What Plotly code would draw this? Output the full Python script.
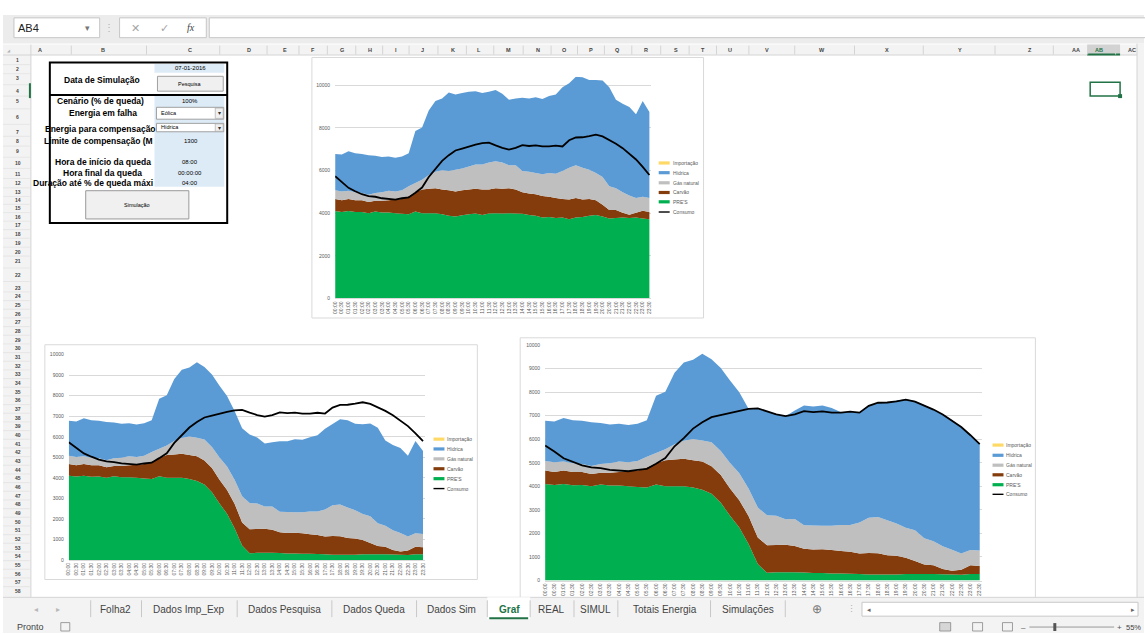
import plotly.graph_objects as go

# ---- dados (MW, intervalos de 30 min) ----
horas = ["00:00", "00:30", "01:00", "01:30", "02:00", "02:30", "03:00", "03:30",
         "04:00", "04:30", "05:00", "05:30", "06:00", "06:30", "07:00", "07:30",
         "08:00", "08:30", "09:00", "09:30", "10:00", "10:30", "11:00", "11:30",
         "12:00", "12:30", "13:00", "13:30", "14:00", "14:30", "15:00", "15:30",
         "16:00", "16:30", "17:00", "17:30", "18:00", "18:30", "19:00", "19:30",
         "20:00", "20:30", "21:00", "21:30", "22:00", "22:30", "23:00", "23:30"]

importacao = [0, 0, 0, 0, 0, 0, 0, 0, 0, 0, 0, 0, 0, 0, 0, 0,
              0, 0, 0, 0, 0, 0, 0, 0, 0, 0, 0, 0, 0, 0, 0, 0,
              0, 0, 0, 0, 0, 0, 0, 0, 0, 0, 0, 0, 0, 0, 0, 0]

pres_normal = [4100, 4060, 4100, 4050, 4060, 4000, 4080, 4030, 4030, 4000,
               3970, 3950, 4080, 4000, 4000, 4000, 3950, 3880, 3850, 3900,
               3950, 3980, 3920, 3980, 4000, 3980, 4000, 3990, 3970, 3920,
               3880, 3800, 3820, 3780, 3800, 3720, 3800, 3820, 3880, 3920,
               3850, 3750, 3780, 3800, 3780, 3800, 3750, 3720]

pres_queda = [4100, 4060, 4100, 4050, 4060, 4000, 4080, 4030, 4030, 4000,
              3970, 3950, 4080, 4000, 4000, 4000, 3950, 3850, 3680, 3300,
              2750, 2250, 1550, 700, 330, 350, 350, 350, 340, 320,
              320, 300, 300, 290, 280, 250, 250, 250, 260, 280,
              280, 280, 280, 270, 260, 240, 280, 280]

carvao = [570, 550, 570, 560, 550, 520, 500, 550, 580, 640,
          700, 850, 900, 1110, 1140, 1170, 1160, 1200, 1170, 1180,
          1160, 1160, 1190, 1130, 1170, 1160, 1170, 1120, 1010, 1000,
          1010, 1000, 950, 930, 870, 920, 910, 820, 790, 690,
          550, 400, 370, 220, 150, 220, 370, 340]

gas_natural = [410, 410, 380, 370, 340, 340, 370, 400, 440, 380,
               410, 460, 440, 460, 650, 770, 900, 900, 1020, 1020,
               1080, 1140, 1170, 1270, 1270, 1240, 1080, 1140, 1000, 1020,
               990, 1020, 1110, 1140, 1310, 1490, 1540, 1490, 1370, 1270,
               1300, 1110, 1020, 960, 900, 690, 650, 650]

hidrica_normal = [1700, 1730, 1850, 1830, 1830, 1860, 1740, 1650, 1610, 1580,
                  1580, 1550, 2430, 2450, 3030, 3320, 3370, 3680, 3530, 3530,
                  3500, 3440, 3350, 3310, 3340, 3220, 3070, 3130, 3430, 3440,
                  3560, 3530, 3620, 3720, 3930, 3960, 4150, 4240, 4210, 4370,
                  4520, 4650, 4150, 4150, 4150, 3930, 4490, 4040]

hidrica_compensada = [1700, 1730, 1850, 1830, 1830, 1860, 1740, 1650, 1610, 1580,
                      1580, 1550, 2430, 2450, 3030, 3320, 3370, 3680, 3530, 3530,
                      3500, 3440, 3380, 4210, 4410, 4310, 4380, 4610, 5080, 5050,
                      5110, 5010, 4790, 4810, 4670, 4760, 4850, 5000, 5220, 5460,
                      5490, 5660, 5590, 5620, 5510, 5370, 4870, 4520]

consumo = [5730, 5480, 5190, 5030, 4890, 4800, 4770, 4700, 4670, 4640,
           4700, 4740, 4960, 5200, 5700, 6050, 6450, 6720, 6940, 7030,
           7130, 7210, 7290, 7310, 7180, 7060, 6980, 7060, 7190, 7150,
           7180, 7130, 7130, 7170, 7130, 7420, 7550, 7560, 7610, 7680,
           7600, 7440, 7260, 7050, 6800, 6520, 6170, 5790]

legenda = ["Importação", "Hídrica", "Gás natural", "Carvão", "PRE'S", "Consumo"]

W, H = 1145, 636
FONT = "Liberation Sans"
cores = {"PRE'S": "#00b050", "Carvão": "#843c0c", "Gás natural": "#bfbfbf",
         "Hídrica": "#5b9bd5", "Importação": "#ffc000", "Consumo": "#000000"}


def px(x):
    return x / W


def py(y):
    return 1 - y / H


fig = go.Figure()
shapes = []
ann = []


def rect(x0, y0, x1, y1, fill=None, line=None, lw=1, layer="above"):
    shapes.append(dict(type="rect", xref="paper", yref="paper",
                       x0=px(x0), x1=px(x1), y0=py(y1), y1=py(y0),
                       fillcolor=fill or "rgba(0,0,0,0)",
                       line=dict(color=line or "rgba(0,0,0,0)", width=lw if line else 0),
                       layer=layer))


def seg(x0, y0, x1, y1, color, lw=1, layer="above"):
    shapes.append(dict(type="line", xref="paper", yref="paper",
                       x0=px(x0), x1=px(x1), y0=py(y0), y1=py(y1),
                       line=dict(color=color, width=lw), layer=layer))


def text(x, y, s, size=8, color="#000000", bold=False, anchor="center", family=FONT):
    ann.append(dict(xref="paper", yref="paper", x=px(x), y=py(y),
                    text=f"<b>{s}</b>" if bold else s, showarrow=False,
                    xanchor=anchor, yanchor="middle", borderpad=0,
                    font=dict(size=size, color=color, family=family)))


def add_chart(n, pres, hidrica):
    xa, ya = ("x", "y") if n == 1 else (f"x{n}", f"y{n}")
    series = [("PRE'S", pres), ("Carvão", carvao), ("Gás natural", gas_natural),
              ("Hídrica", hidrica), ("Importação", importacao)]
    for nome, serie in series:
        fig.add_trace(go.Scatter(x=horas, y=serie, name=nome, mode="none",
                                 stackgroup=f"g{n}", fillcolor=cores[nome],
                                 xaxis=xa, yaxis=ya, showlegend=False))
    fig.add_trace(go.Scatter(x=horas, y=consumo, name="Consumo", mode="lines",
                             line=dict(color="black", width=1.8),
                             xaxis=xa, yaxis=ya, showlegend=False))


def legend_block(x0, ys):
    for nome, y in zip(legenda, ys):
        lw = 1.4 if nome == "Consumo" else 3.2
        col = "#ffd966" if nome == "Importação" else cores[nome]
        seg(x0, y, x0 + 11, y, col, lw)
        text(x0 + 13, y, nome, size=5, color="#595959", anchor="left")


add_chart(1, pres_normal, hidrica_normal)
add_chart(2, pres_queda, hidrica_normal)
add_chart(3, pres_queda, hidrica_compensada)

# (n, x0, x1, ytop, ybottom, ymax, dtick)
layout_charts = [(1, 333.3, 650, 74.4, 298.3, 10400, 2000),
                 (2, 66, 423, 355, 562.3, 10000, 1000),
                 (3, 544, 982, 345.3, 583, 10000, 1000)]
axes = {}
for n, x0, x1, yt, yb, ymax, dt in layout_charts:
    s = "" if n == 1 else str(n)
    axes[f"xaxis{s}"] = dict(domain=[px(x0), px(x1)], range=[0, 47.2], type="category",
                             tickmode="array", tickvals=horas, ticktext=horas,
                             tickangle=-90, tickfont=dict(size=5, color="#595959"),
                             showgrid=False, showline=True, linecolor="#d9d9d9",
                             linewidth=1, ticks="", anchor=f"y{s}", fixedrange=True)
    axes[f"yaxis{s}"] = dict(domain=[py(yb), py(yt)], range=[0, ymax], dtick=dt,
                             tick0=0, tickformat="d", showgrid=True,
                             gridcolor="#d9d9d9", gridwidth=0.8, zeroline=False,
                             showline=False, ticks="", ticklabelstandoff=4,
                             tickfont=dict(size=5, color="#595959"),
                             anchor=f"x{s}", fixedrange=True)

# molduras dos gráficos
rect(310, 55, 703, 318, fill="white", line="#d9d9d9", layer="below")
rect(42, 345, 476, 582, fill="white", line="#d9d9d9", layer="below")
rect(519, 338, 1036, 610, fill="white", line="#d9d9d9", layer="below")

legend_block(658, [161.5, 171.3, 181.5, 191.3, 200.7, 211])
legend_block(432, [440.3, 450.2, 460.2, 470.2, 480.2, 490.2])
legend_block(993, [446.3, 456.6, 466.6, 476.3, 486.3, 496])

# ---- interface do Excel ----
# barra de fórmulas
rect(0, 12, 1145, 41, fill="#ececec")
rect(11, 15, 97, 35, fill="white", line="#c6c6c6")
text(14, 25, "AB4", size=11, color="#222222", anchor="left")
text(85, 25, "▾", size=9, color="#777777")
text(106, 25, "⋮", size=10, color="#b0b0b0")
rect(117, 15, 204, 35, fill="white", line="#c6c6c6")
text(133, 25, "✕", size=11, color="#a6a6a6")
text(162, 25, "✓", size=11, color="#a6a6a6")
text(189, 25, "<i>fx</i>", size=10, color="#444444", family="Liberation Serif")
rect(207, 15, 1150, 35, fill="white", line="#c6c6c6")

# cabeçalhos de colunas e linhas
rect(0, 42, 1145, 52.5, fill="#f3f3f3")
rect(0, 52.5, 28, 600, fill="#f3f3f3")
seg(0, 52.5, 1138, 52.5, "#d4d4d4")
seg(28, 42, 28, 600, "#d4d4d4")
colunas = [("A", 37), ("B", 100), ("C", 188), ("D", 247), ("E", 283), ("F", 311),
           ("G", 340), ("H", 368), ("I", 394), ("J", 421), ("K", 452), ("L", 478),
           ("M", 507), ("N", 537), ("O", 563), ("P", 590), ("Q", 617), ("R", 645),
           ("S", 675), ("T", 702), ("U", 730), ("V", 767), ("W", 822), ("X", 887),
           ("Y", 960), ("Z", 1031), ("AA", 1077), ("AB", 1100), ("AC", 1133)]
rect(1088, 42, 1121, 52.5, fill="#d2d2d2")
seg(1088, 52, 1121, 52, "#217346", 2)
for i, (c, xc) in enumerate(colunas):
    text(xc, 47.5, c, size=5.5, color="#217346" if c == "AB" else "#444444", bold=True)
    if i + 1 < len(colunas):
        xs = (xc + colunas[i + 1][1]) / 2
        seg(xs, 43, xs, 52, "#d4d4d4")
text(6, 48, "◢", size=4, color="#b0b0b0")

linhas_y = [57.3, 67, 75.7, 89.3, 98.7, 115, 130, 139.3, 149.7, 161.7, 172.3, 182,
            191.3, 199.3, 207.3, 216, 224.5, 233, 242, 251, 260, 275]
for r in range(23, 59):
    linhas_y.append(287.3 + (r - 23) * 8.75)
for r, yc in enumerate(linhas_y, start=1):
    text(15, yc, str(r), size=5, color="#444444", bold=True)
    if r < len(linhas_y):
        yb = (yc + linhas_y[r]) / 2
        seg(0, yb, 27, yb, "#dedede", 0.6)
seg(27, 81, 27, 96, "#217346", 2)

# célula selecionada AB4
rect(1091, 80, 1121, 94, line="#217346", lw=1.5)
rect(1119, 92, 1123, 96, fill="#217346")

# barra de deslocamento vertical
rect(1138, 41, 1145, 600, fill="#f3f3f3")
seg(1138, 41, 1138, 600, "#d4d4d4")

# ---- painel de simulação ----
rect(152, 61.5, 222, 70.5, fill="#ddebf7")
rect(152, 94, 222, 185.5, fill="#ddebf7")
rect(47, 60, 225, 222, line="#000000", lw=2)
seg(47, 93, 225, 93, "#000000", 2)

LB = 8.5
text(188, 66, "07-01-2016", size=6)
text(99, 77.3, "Data de Simulação", size=LB, bold=True)
rect(155, 74, 221, 89, fill="#f0f0f0", line="#a0a0a0")
text(188, 81.5, "Pesquisa", size=5.5)

text(98, 98.7, "Cenário (% de queda)", size=LB, bold=True)
text(188, 98.7, "100%", size=6)
text(100, 111.5, "Energia em falha", size=LB, bold=True)
rect(154, 105.3, 221.5, 117.3, fill="white", line="#a0a0a0")
rect(213, 106, 221, 116.5, fill="#f0f0f0", line="#a0a0a0", lw=0.6)
text(217, 111.3, "▾", size=6, color="#333333")
text(158, 111.3, "Eólica", size=5.5, anchor="left")

text(155, 127.5, "Energia para compensação", size=LB, bold=True, anchor="right")
rect(154, 121.5, 221.5, 130, fill="white", line="#a0a0a0")
rect(213, 122, 221, 129.5, fill="#f0f0f0", line="#a0a0a0", lw=0.6)
text(217, 125.8, "▾", size=6, color="#333333")
text(158, 125.5, "Hídrica", size=5.5, anchor="left")

text(152, 139.5, "Limite de compensação (M", size=LB, bold=True, anchor="right")
text(189, 139.5, "1300", size=6)
text(100, 161, "Hora de início da queda", size=LB, bold=True)
text(188, 161, "08:00", size=6)
text(100, 171.5, "Hora final da queda", size=LB, bold=True)
text(188, 171.7, "00:00:00", size=6)
text(152, 181.3, "Duração até % de queda máxi", size=LB, bold=True, anchor="right")
text(188, 182, "04:00", size=6)

rect(83, 189.5, 186.5, 218, fill="#f0f0f0", line="#9a9a9a")
text(134.5, 204, "Simulação", size=5.5)

# ---- separadores de folhas ----
rect(0, 600, 1145, 623, fill="#f3f3f3")
seg(0, 600, 1145, 600, "#d4d4d4")
text(33, 612, "◂", size=8, color="#b8b8b8")
text(55, 612, "▸", size=8, color="#b8b8b8")
folhas = [("Folha2", 113), ("Dados Imp_Exp", 187), ("Dados Pesquisa", 282),
          ("Dados Queda", 372), ("Dados Sim", 450), ("Graf", 508), ("REAL", 550),
          ("SIMUL", 595), ("Totais Energia", 664), ("Simulações", 748)]
rect(486, 600, 529, 622, fill="white")
seg(488, 621, 527, 621, "#217346", 2)
for x in [88, 139, 235, 330, 415, 486, 529, 573, 617, 710, 785]:
    seg(x, 603, x, 620, "#c8c8c8")
for nome, xc in folhas:
    if nome == "Graf":
        text(xc, 612, nome, size=10, color="#217346", bold=True)
    else:
        text(xc, 612, nome, size=10, color="#444444")
text(817, 612, "⊕", size=12, color="#777777")
text(851, 612, "⋮", size=9, color="#b0b0b0")
rect(862, 605, 1139, 619, fill="white", line="#c8c8c8")
text(869, 612, "◂", size=7, color="#666666")
text(1134, 612, "▸", size=7, color="#666666")

# barra de estado
rect(0, 623, 1145, 636, fill="#f3f3f3")
text(13, 630, "Pronto", size=9, color="#444444", anchor="left")
rect(58, 625.5, 67, 634, line="#888888", lw=0.8)
rect(940, 625.5, 951, 634, fill="#d6d6d6", line="#888888", lw=0.8)
rect(973, 625.5, 983, 634, line="#888888", lw=0.8)
rect(1003, 625.5, 1013, 634, line="#888888", lw=0.8)
text(1024, 630, "–", size=8, color="#555555")
seg(1030, 630, 1115, 630, "#9a9a9a", 1)
rect(1054, 626, 1057, 634, fill="#555555")
text(1120, 630, "+", size=8, color="#555555")
text(1126, 630, "55%", size=7.5, color="#444444", anchor="left")

fig.update_layout(
    width=W, height=H,
    margin=dict(l=0, r=0, t=0, b=0),
    paper_bgcolor="white", plot_bgcolor="rgba(0,0,0,0)",
    font=dict(family=FONT, color="#595959"),
    showlegend=False,
    shapes=shapes, annotations=ann,
    **axes,
)
fig.write_html("out.html", config={"displayModeBar": False},
               post_script="document.body.style.margin='0';document.body.style.overflow='hidden';")
